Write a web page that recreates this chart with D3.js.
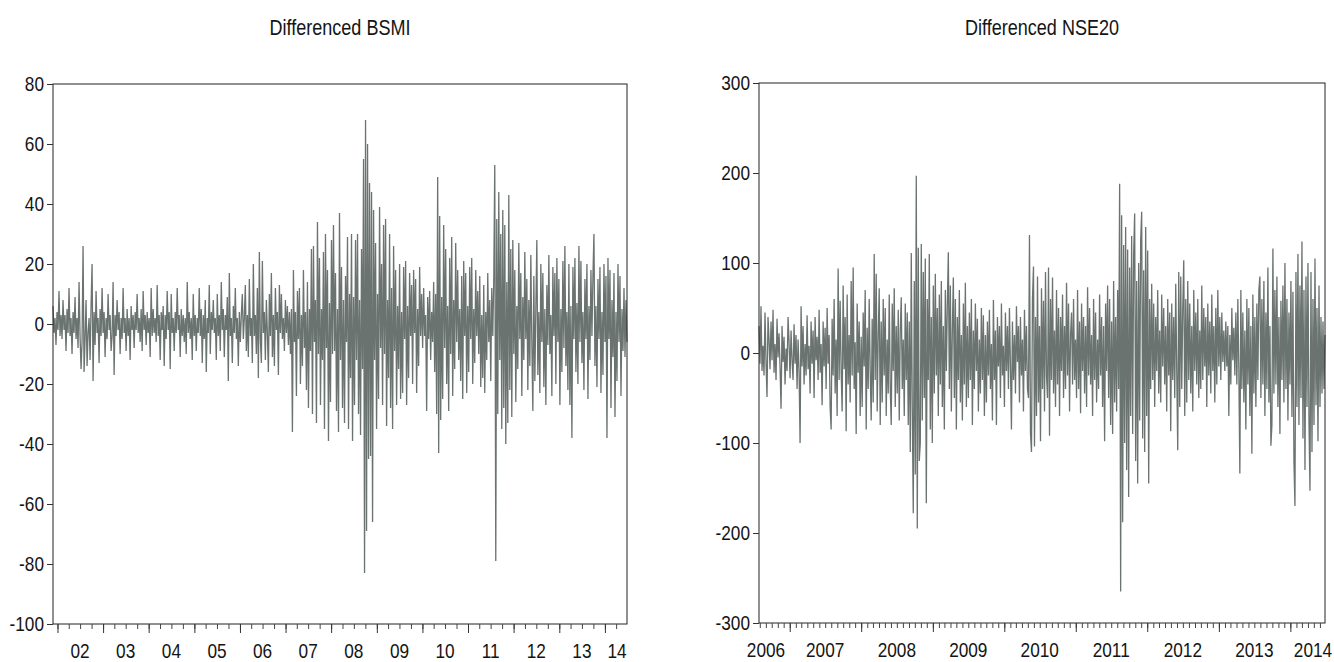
<!DOCTYPE html>
<html>
<head>
<meta charset="utf-8">
<script src="https://cdn.jsdelivr.net/npm/d3@7"></script>
<style>
  body { margin: 0; background: #fff; }
  text { font-family: "Liberation Sans", Arial, sans-serif; fill: #141414; }
</style>
</head>
<body>
<script>
// daily differences (one value per pixel column)
var bsmiValues = [
  6,-3,2,-7,4,-2,11,-4,3,-5,
  8,-2,3,-9,5,-3,12,-4,2,-10,
  4,-3,9,-5,2,-8,14,-4,-15,-6,
  26,-16,-5,8,-14,-3,2,-12,6,20,
  -19,4,-7,11,-3,2,-13,5,-4,12,
  -3,4,-11,2,-5,10,-2,3,-9,-4,
  14,-17,3,-4,8,-2,4,-10,2,-5,
  12,-3,2,-9,5,-4,2,-12,6,-2,
  3,-8,4,-2,10,-3,2,-6,5,-9,
  11,-2,3,-7,4,-3,2,-11,12,-4,
  5,-3,2,-6,13,-4,3,-12,4,-2,
  6,-14,3,-5,11,-2,4,-15,10,-3,
  2,-9,4,-3,12,-2,3,-11,5,-4,
  3,-6,2,-10,14,-3,4,-5,2,-12,
  10,-4,3,-9,2,-3,12,-4,5,-13,
  3,-5,8,-16,2,-3,13,-10,4,-2,
  8,-3,2,-12,10,-4,3,-9,14,-2,
  5,-11,3,-2,9,-19,17,-4,2,-13,
  6,-3,12,-5,2,-14,4,-6,3,10,
  -5,2,13,-9,3,-11,15,-4,2,-13,
  20,-4,3,-10,12,-18,24,-5,-13,21,
  -3,4,-12,8,-3,-16,10,-4,17,-11,
  3,-14,12,-2,4,-17,13,-3,10,-5,
  2,-9,8,-3,6,-7,4,-10,5,-36,
  18,-6,4,-24,11,-5,12,-20,3,-14,
  18,-8,4,-22,14,-28,5,-9,25,-30,
  26,-6,8,-33,34,-10,22,-27,5,-12,
  24,-35,30,-8,18,-39,7,-26,28,-10,
  33,-9,17,-29,5,-36,37,-12,19,-28,
  8,-33,16,-6,29,-35,10,-18,30,-39,
  9,-27,28,-12,30,-30,8,-37,25,-15,
  55,-83,68,-69,60,-45,47,-44,44,-66,
  38,-12,27,-35,10,-25,39,-8,20,-27,
  33,-10,35,-34,8,-18,30,-28,12,-35,
  26,-9,18,-27,6,-15,20,-25,4,-23,
  19,-5,21,-27,6,-18,17,-4,13,-20,
  18,-3,15,-23,5,-14,19,-4,10,-8,
  12,-4,3,-29,9,-5,11,-12,4,-6,
  14,-16,10,-30,49,-43,36,-32,9,-25,
  33,-8,25,-20,6,-29,22,-10,29,-24,
  8,-15,27,-6,18,-12,5,-19,16,-25,
  21,-4,17,-23,6,-16,19,-5,22,-20,
  5,-13,18,-4,11,-10,16,-21,3,-18,
  13,-23,4,-12,17,-6,8,-19,12,-4,
  15,53,-79,35,-30,44,-12,30,-35,38,
  -28,33,-40,14,-33,43,-22,25,-31,28,
  -10,18,-26,6,-15,27,-5,17,-24,9,
  -12,24,-5,15,-22,8,-14,23,-6,-29,
  16,-19,5,28,-17,4,-23,20,-6,17,
  -21,5,-27,13,-7,23,-10,3,-24,19,
  -4,17,-20,22,-6,15,-27,5,-16,21,
  -8,26,-14,4,-22,20,-27,6,-38,19,
  -5,22,-16,7,-20,26,-6,21,-13,4,
  -22,15,-5,20,-25,6,-12,18,-4,16,
  30,-14,6,-21,15,-5,19,-23,4,-17,
  20,-6,16,-38,22,-5,18,-28,8,-11,
  17,-31,4,-19,20,-6,16,-24,5,-9,
  12,-11,8,-6
];

var nseValues = [
  30,-12,52,-20,8,-25,45,-10,-49,40,
  15,-18,35,-8,48,-22,10,-30,38,-5,
  22,-15,-62,30,-10,18,-35,5,-20,40,
  12,-28,25,-8,-30,32,-12,20,-40,15,
  -20,-100,52,-15,30,-35,10,-25,42,-18,
  8,-45,35,-12,25,-50,40,-8,18,-30,
  48,-22,10,-58,35,-15,28,-40,50,-12,
  20,-60,-85,38,-25,60,-45,15,-70,94,
  -30,58,-20,-65,75,-18,40,-87,65,-35,
  20,-55,80,-25,95,-40,12,-90,55,-22,
  35,-70,18,-60,45,-15,70,-85,28,-40,
  60,-20,-75,38,-55,110,-30,88,-65,20,
  72,-80,35,-55,60,-25,50,-70,15,-45,
  65,-38,-80,55,-20,72,-60,30,-45,48,
  -75,25,62,-40,15,-70,55,-30,45,-80,
  35,-110,111,-60,-178,80,-135,197,-195,117,
  -120,-100,121,-75,90,-50,105,-167,60,-30,
  110,-85,40,-100,75,-45,88,-25,50,-70,
  65,-35,80,-60,30,-85,70,-20,55,112,
  -40,75,-65,25,84,-50,60,-85,40,-30,
  70,-55,20,-75,55,-35,78,-60,30,-50,
  45,-30,60,-80,25,-40,55,-20,38,-65,
  15,-45,50,-30,42,-70,20,-55,35,-25,
  48,-40,10,-75,59,-30,25,-80,40,-15,
  30,-50,55,-25,8,-60,45,-20,30,-40,
  50,-15,-85,35,-30,20,-45,52,-10,30,
  -55,40,-25,15,-65,48,-20,30,-40,-50,
  131,-89,-110,60,96,-104,40,-70,85,-55,
  30,-98,72,-40,58,-65,90,-25,-50,95,
  -92,60,-30,84,-45,25,-60,70,-35,50,
  -70,40,-20,65,-50,30,-40,78,-25,55,
  -65,20,45,-35,60,-30,15,-50,70,-40,
  35,-67,55,-20,40,-45,30,-60,73,-25,
  50,-35,20,-70,60,-30,45,-55,15,-40,
  65,-25,40,-60,30,-98,55,-20,75,-50,
  60,-80,35,-90,80,-55,40,-65,70,-40,
  188,-265,153,-188,120,-100,140,-130,115,-160,
  95,-70,130,-90,110,155,-120,80,-145,100,
  -75,125,157,-95,92,-110,140,-70,114,-145,
  60,-40,77,-30,55,-60,40,-20,70,-45,
  25,-55,65,-15,50,-35,30,-65,60,-25,
  45,-87,55,-30,40,-50,77,-20,-108,90,
  -60,85,-40,50,103,-70,60,-55,80,-30,
  55,-45,30,-65,70,-20,45,-35,60,-50,
  25,-40,75,-30,50,-15,40,-60,55,-25,
  35,-45,65,-20,30,-55,50,-35,70,-15,
  40,-30,45,-10,25,-20,35,-15,30,-70,
  20,-35,50,-8,28,-25,45,-35,60,-20,
  -134,70,-40,45,-55,25,-85,60,-35,50,
  -70,30,-112,65,-45,40,-60,55,-30,70,
  85,-50,60,-35,80,-70,45,-40,95,-55,
  30,-103,-80,116,-45,70,-35,85,-60,40,
  -90,58,-30,75,-55,100,-40,60,-75,45,
  -35,80,-71,68,-120,-170,90,-60,110,-80,
  75,-50,124,-95,70,-130,85,-60,100,-75,
  -153,90,-110,60,-80,105,-58,50,-98,75,
  -60,40,-45,35,-40,20
];

// sample ranges (first and last trading day shown)
var bsmiRange = [new Date(2001, 10, 26), new Date(2014, 5, 27)];
var nseRange = [new Date(2006, 6, 28), new Date(2014, 5, 27)];

var bsmiYTicks = [-100, -80, -60, -40, -20, 0, 20, 40, 60, 80];
var nseYTicks = [-300, -200, -100, 0, 100, 200, 300];
var bsmiYears = d3.range(2002, 2015);
var nseYears = d3.range(2006, 2015);

var svg = d3.select("body").append("svg")
    .attr("width", 1334)
    .attr("height", 662);

var NARROW = "scale(0.82,1)";

function panel(opt) {
  var x = d3.scaleTime().domain(opt.range).range([opt.left, opt.right]);
  var y = d3.scaleLinear().domain(opt.yDomain).range([opt.bottom, opt.top]);

  var n = opt.values.length;
  var t0 = opt.range[0].getTime(), t1 = opt.range[1].getTime();
  var data = opt.values.map(function(v, i) {
    return {date: new Date(t0 + (t1 - t0) * i / (n - 1)), v: v};
  });

  var g = svg.append("g");

  // the series
  var line = d3.line()
      .x(function(d) { return x(d.date); })
      .y(function(d) { return y(d.v); });

  g.append("path")
      .datum(data)
      .attr("fill", "none")
      .attr("stroke", "#6a7370")
      .attr("stroke-width", 1.3)
      .attr("stroke-linejoin", "bevel")
      .attr("d", line);

  // frame
  g.append("rect")
      .attr("x", opt.left)
      .attr("y", opt.top)
      .attr("width", opt.right - opt.left)
      .attr("height", opt.bottom - opt.top)
      .attr("fill", "none")
      .attr("stroke", "#222")
      .attr("stroke-width", 1);

  // y axis
  var yAxis = g.append("g")
      .attr("transform", "translate(" + opt.left + ",0)")
      .call(d3.axisLeft(y).tickValues(opt.yTicks).tickSize(6).tickSizeOuter(0).tickPadding(5)
        .tickFormat(function(d) { return String(d); }));
  yAxis.select(".domain").remove();
  yAxis.selectAll("line").attr("stroke", "#333");
  yAxis.selectAll("text")
      .attr("transform", NARROW)
      .attr("fill", "#141414")
      .style("font-size", "21px")
      .style("font-family", "'Liberation Sans', Arial, sans-serif");

  // x axis: minor ticks and year ticks
  var minor = g.append("g")
      .attr("transform", "translate(0," + opt.bottom + ")")
      .call(d3.axisBottom(x).ticks(opt.minorTicks).tickSize(5).tickSizeOuter(0).tickFormat(""));
  minor.select(".domain").remove();
  minor.selectAll("line").attr("stroke", "#444");

  var major = g.append("g")
      .attr("transform", "translate(0," + opt.bottom + ")")
      .call(d3.axisBottom(x).ticks(d3.timeYear.every(1)).tickSize(9).tickSizeOuter(0).tickFormat(""));
  major.select(".domain").remove();
  major.selectAll("line").attr("stroke", "#333");

  // year labels, centred in their year; partial end years nudged inside
  opt.years.forEach(function(yr, i) {
    var cx = x(new Date(yr, 6, 1));
    if (opt.firstLabelX && i === 0) cx = opt.firstLabelX(x);
    if (i === opt.years.length - 1) cx = opt.lastLabelX(x);
    g.append("text")
        .attr("transform", "translate(" + cx + "," + (opt.bottom + 34) + ") " + NARROW)
        .attr("text-anchor", "middle")
        .style("font-size", "21px")
        .text(opt.yearFormat(yr));
  });

  // title
  g.append("text")
      .attr("transform", "translate(" + ((opt.left + opt.right) / 2) + ",35) " + NARROW)
      .attr("text-anchor", "middle")
      .style("font-size", "22px")
      .text(opt.title);
}

panel({
  title: "Differenced BSMI",
  values: bsmiValues,
  range: bsmiRange,
  yDomain: [-100, 80],
  yTicks: bsmiYTicks,
  years: bsmiYears,
  yearFormat: function(y) { return String(y).slice(2); },
  minorTicks: d3.timeMonth.every(3),
  left: 53, right: 627, top: 84, bottom: 624,
  lastLabelX: function(x) { return x.range()[1] - 10; }
});

panel({
  title: "Differenced NSE20",
  values: nseValues,
  range: nseRange,
  yDomain: [-300, 300],
  yTicks: nseYTicks,
  years: nseYears,
  yearFormat: function(y) { return String(y); },
  minorTicks: d3.timeMonth.every(1),
  left: 759, right: 1325, top: 83, bottom: 623,
  firstLabelX: function(x) { return x.range()[0] + 7; },
  lastLabelX: function(x) { return x.range()[1] - 12; }
});
</script>
</body>
</html>
